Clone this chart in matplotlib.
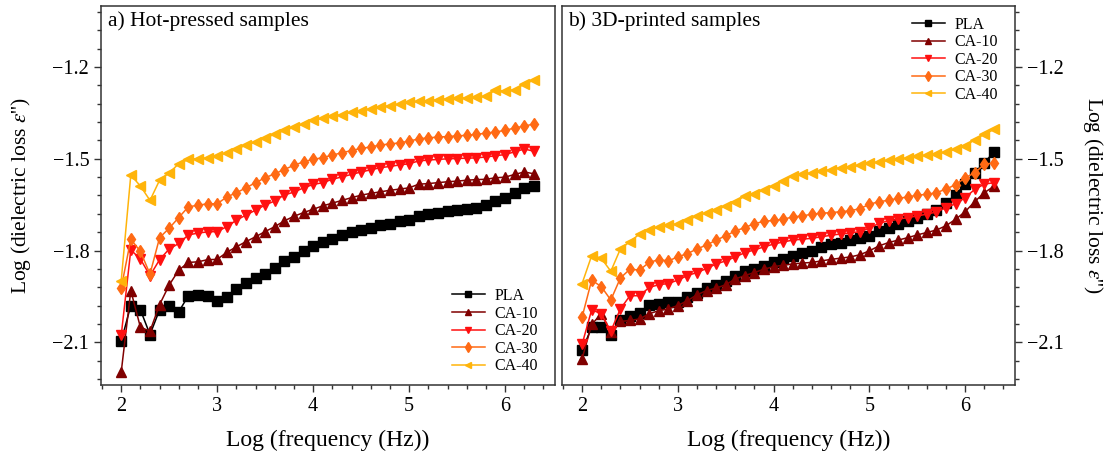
import matplotlib
matplotlib.use("Agg")
import matplotlib.pyplot as plt
from matplotlib.ticker import MultipleLocator, FuncFormatter

plt.rcParams['font.family'] = ['Liberation Serif', 'DejaVu Serif']
plt.rcParams['mathtext.fontset'] = 'stix'

# Log (frequency)
log_f = [2.0, 2.1, 2.2, 2.3, 2.4, 2.5, 2.6, 2.7, 2.8, 2.9,
         3.0, 3.1, 3.2, 3.3, 3.4, 3.5, 3.6, 3.7, 3.8, 3.9,
         4.0, 4.1, 4.2, 4.3, 4.4, 4.5, 4.6, 4.7, 4.8, 4.9,
         5.0, 5.1, 5.2, 5.3, 5.4, 5.5, 5.6, 5.7, 5.8, 5.9,
         6.0, 6.1, 6.2, 6.3]

# a) hot-pressed
hp_pla = [-2.097, -1.980, -1.994, -2.075, -1.994, -1.980, -2.000, -1.948, -1.946, -1.948,
          -1.964, -1.953, -1.927, -1.907, -1.891, -1.877, -1.857, -1.834, -1.821, -1.803,
          -1.785, -1.772, -1.761, -1.750, -1.741, -1.732, -1.725, -1.717, -1.712, -1.705,
          -1.700, -1.687, -1.681, -1.677, -1.671, -1.667, -1.663, -1.660, -1.650, -1.639,
          -1.629, -1.611, -1.596, -1.590]
hp_ca10 = [-2.198, -1.931, -2.051, -2.064, -1.977, -1.913, -1.864, -1.839, -1.837, -1.830,
           -1.829, -1.806, -1.788, -1.771, -1.755, -1.738, -1.722, -1.703, -1.688, -1.676,
           -1.665, -1.654, -1.645, -1.636, -1.627, -1.619, -1.613, -1.608, -1.603, -1.599,
           -1.595, -1.583, -1.581, -1.578, -1.575, -1.573, -1.570, -1.568, -1.567, -1.562,
           -1.560, -1.551, -1.543, -1.549]
hp_ca20 = [-2.078, -1.798, -1.828, -1.882, -1.830, -1.795, -1.777, -1.749, -1.743, -1.739,
           -1.738, -1.722, -1.701, -1.684, -1.668, -1.651, -1.638, -1.618, -1.609, -1.595,
           -1.584, -1.578, -1.567, -1.559, -1.551, -1.543, -1.536, -1.529, -1.525, -1.520,
           -1.516, -1.507, -1.504, -1.502, -1.500, -1.499, -1.498, -1.497, -1.494, -1.490,
           -1.486, -1.477, -1.468, -1.475]
hp_ca30 = [-1.923, -1.763, -1.803, -1.877, -1.758, -1.727, -1.692, -1.657, -1.652, -1.647,
           -1.647, -1.625, -1.611, -1.595, -1.578, -1.562, -1.549, -1.535, -1.521, -1.510,
           -1.502, -1.496, -1.488, -1.480, -1.473, -1.466, -1.461, -1.455, -1.451, -1.448,
           -1.442, -1.435, -1.431, -1.429, -1.427, -1.425, -1.423, -1.420, -1.416, -1.412,
           -1.407, -1.399, -1.393, -1.386]
hp_ca40 = [-1.899, -1.553, -1.589, -1.636, -1.570, -1.546, -1.516, -1.502, -1.499, -1.497,
           -1.491, -1.480, -1.469, -1.455, -1.445, -1.431, -1.420, -1.407, -1.397, -1.386,
           -1.374, -1.368, -1.361, -1.355, -1.348, -1.342, -1.336, -1.331, -1.326, -1.321,
           -1.315, -1.312, -1.310, -1.306, -1.304, -1.302, -1.300, -1.298, -1.296, -1.274,
           -1.279, -1.274, -1.255, -1.243]

# b) 3D-printed
pr_pla = [-2.127, -2.051, -2.051, -2.078, -2.029, -2.013, -2.005, -1.977, -1.975, -1.970,
          -1.970, -1.953, -1.938, -1.923, -1.912, -1.899, -1.885, -1.868, -1.861, -1.850,
          -1.838, -1.828, -1.817, -1.807, -1.801, -1.790, -1.779, -1.774, -1.766, -1.759,
          -1.752, -1.736, -1.725, -1.714, -1.703, -1.692, -1.681, -1.667, -1.643, -1.619,
          -1.581, -1.546, -1.513, -1.478]
pr_ca10 = [-2.154, -2.042, -2.007, -2.067, -2.032, -2.029, -2.024, -2.007, -1.997, -1.991,
           -1.980, -1.964, -1.945, -1.931, -1.923, -1.912, -1.893, -1.882, -1.872, -1.861,
           -1.853, -1.848, -1.844, -1.841, -1.839, -1.834, -1.829, -1.825, -1.821, -1.814,
           -1.801, -1.785, -1.774, -1.766, -1.758, -1.749, -1.741, -1.733, -1.719, -1.698,
           -1.673, -1.640, -1.611, -1.590]
pr_ca20 = [-2.107, -1.994, -2.007, -2.064, -1.991, -1.948, -1.948, -1.921, -1.912, -1.908,
           -1.897, -1.882, -1.872, -1.859, -1.844, -1.834, -1.821, -1.807, -1.798, -1.788,
           -1.779, -1.772, -1.766, -1.763, -1.760, -1.755, -1.750, -1.746, -1.743, -1.738,
           -1.727, -1.711, -1.703, -1.698, -1.692, -1.687, -1.681, -1.674, -1.660, -1.647,
           -1.627, -1.600, -1.583, -1.578]
pr_ca30 = [-2.018, -1.897, -1.918, -1.962, -1.890, -1.861, -1.864, -1.839, -1.830, -1.834,
           -1.821, -1.810, -1.795, -1.782, -1.766, -1.752, -1.736, -1.725, -1.712, -1.705,
           -1.701, -1.698, -1.690, -1.687, -1.681, -1.678, -1.676, -1.673, -1.670, -1.663,
           -1.649, -1.640, -1.636, -1.629, -1.625, -1.619, -1.616, -1.611, -1.599, -1.585,
           -1.562, -1.546, -1.518, -1.513]
pr_ca40 = [-1.908, -1.817, -1.825, -1.868, -1.795, -1.771, -1.746, -1.733, -1.722, -1.716,
           -1.714, -1.701, -1.687, -1.676, -1.668, -1.654, -1.640, -1.622, -1.614, -1.602,
           -1.589, -1.572, -1.556, -1.551, -1.546, -1.540, -1.535, -1.529, -1.526, -1.521,
           -1.515, -1.510, -1.505, -1.501, -1.497, -1.492, -1.488, -1.484, -1.477, -1.469,
           -1.459, -1.437, -1.420, -1.404]

labels = ["PLA", "CA-10", "CA-20", "CA-30", "CA-40"]
colors = ["black", "#800000", "#ff1010", "#ff6a14", "#ffb40a"]
markers = ["s", "^", "v", "d", "<"]

fig = plt.figure(figsize=(11.08, 4.62), dpi=100)
ax1 = fig.add_axes([0.0912, 0.1667, 0.4097, 0.8203])
ax2 = fig.add_axes([0.5072, 0.1667, 0.4088, 0.8203])

yfmt = FuncFormatter(lambda v, p: f"{v:.1f}".replace("-", "\u2212"))

for ax, series in [(ax1, [hp_pla, hp_ca10, hp_ca20, hp_ca30, hp_ca40]),
                   (ax2, [pr_pla, pr_ca10, pr_ca20, pr_ca30, pr_ca40])]:
    for y, lab, c, mk in zip(series, labels, colors, markers):
        ax.plot(log_f, y, color=c, marker=mk, markersize=6.5, linewidth=1.1, label=lab)
    ax.set_xlim(1.79, 6.52)
    ax.set_ylim(-2.24, -1.0)
    ax.xaxis.set_major_locator(MultipleLocator(1))
    ax.xaxis.set_minor_locator(MultipleLocator(0.2))
    ax.yaxis.set_major_locator(MultipleLocator(0.3))
    ax.yaxis.set_minor_locator(MultipleLocator(0.06))
    ax.yaxis.set_major_formatter(yfmt)
    ax.tick_params(which='major', direction='out', length=5, width=1, labelsize=14.5, color='#333333')
    ax.tick_params(which='minor', direction='out', length=3, width=1, color='#333333')
    for sp in ax.spines.values():
        sp.set_linewidth(1.1)
        sp.set_color('#333333')
    ax.set_xlabel("Log (frequency (Hz))", fontsize=17, labelpad=10)

ax1.tick_params(which='both', right=False, top=False)
ax2.yaxis.tick_right()
ax2.yaxis.set_label_position('right')
ax2.tick_params(which='both', left=False, top=False)

ylab = "Log (dielectric loss $\\varepsilon$'')"
ax1.set_ylabel(ylab, fontsize=15.5, labelpad=14)
ax2.set_ylabel(ylab, fontsize=15.5, rotation=270, labelpad=30)

ax1.text(0.015, 0.985, "a) Hot-pressed samples", transform=ax1.transAxes, fontsize=15.5, va='top', ha='left')
ax2.text(0.013, 0.985, "b) 3D-printed samples", transform=ax2.transAxes, fontsize=15.5, va='top', ha='left')

leg_kw = dict(frameon=False, fontsize=11.5, markerscale=0.75, handlelength=2.1,
              labelspacing=0.1, handletextpad=0.6)
ax1.legend(loc='lower right', bbox_to_anchor=(0.995, -0.01), **leg_kw)
ax2.legend(loc='upper right', bbox_to_anchor=(0.995, 1.01), **leg_kw)

fig.savefig("out.png", dpi=100)
